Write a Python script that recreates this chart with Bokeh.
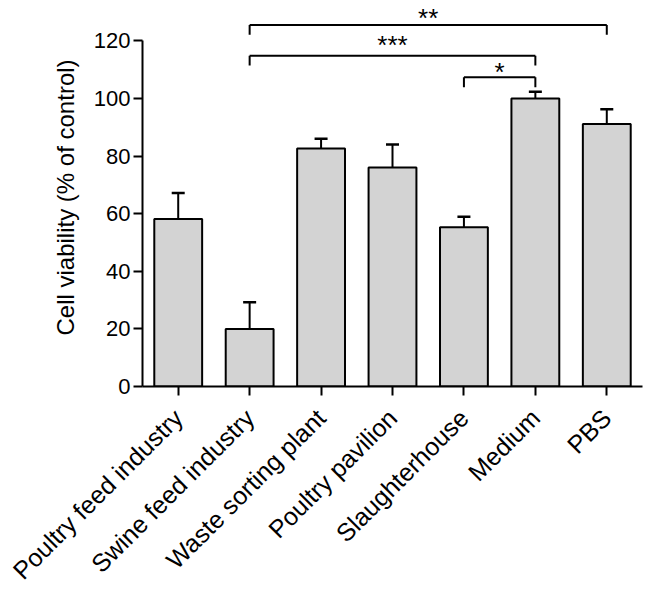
import numpy as np
from bokeh.plotting import figure
from bokeh.models import FactorRange, Range1d, FixedTicker, ColumnDataSource, Whisker, TeeHead
from bokeh.core.properties import value
from bokeh.transform import dodge
from bokeh.embed import file_html
from bokeh.resources import INLINE

categories = ["Poultry feed industry", "Swine feed industry", "Waste sorting plant",
              "Poultry pavilion", "Slaughterhouse", "Medium", "PBS"]
means = [58.1, 20.0, 82.6, 76.0, 55.3, 100.0, 91.1]
errors = [9.1, 9.2, 3.4, 8.0, 3.6, 2.3, 5.1]
y_ticks = [0, 20, 40, 60, 80, 100, 120]

br_start = ["Swine feed industry", "Swine feed industry", "Slaughterhouse"]
br_end = ["PBS", "Medium", "Medium"]
br_height = [125.5, 114.8, 107.3]
br_drop = [3.4, 3.4, 3.4]
br_label = ["**", "***", "*"]
br_label_y = [128.0, 118.6, 109.2]

FONT = "Liberation Sans"

p = figure(x_range=FactorRange(factors=categories, range_padding=0),
           y_range=Range1d(0, 131.2),
           frame_width=500, frame_height=378, output_backend="svg", toolbar_location=None,
           min_border_left=142, min_border_right=6, min_border_top=8, min_border_bottom=10)
p.outline_line_color = None
p.xgrid.grid_line_color = None
p.ygrid.grid_line_color = None

src = ColumnDataSource(dict(cat=categories, mean=means,
                            upper=[m + e for m, e in zip(means, errors)]))
p.vbar(x="cat", top="mean", bottom=0, width=0.67, source=src,
       fill_color="#d3d3d3", line_color="black", line_width=2)
w = Whisker(base="cat", lower="mean", upper="upper", source=src,
            line_color="black", line_width=2,
            upper_head=TeeHead(size=13, line_width=2.5, line_color="black"),
            lower_head=None)
p.add_layout(w)

# significance brackets
drop_y = [h - d for h, d in zip(br_height, br_drop)]
p.segment(x0=br_start, y0=br_height, x1=br_end, y1=br_height, line_color="black", line_width=2)
p.segment(x0=br_start, y0=br_height, x1=br_start, y1=drop_y, line_color="black", line_width=2)
p.segment(x0=br_end, y0=br_height, x1=br_end, y1=drop_y, line_color="black", line_width=2)

for s, e, yl, t in zip(br_start, br_end, br_label_y, br_label):
    i0, i1 = categories.index(s), categories.index(e)
    mid = (i0 + i1) / 2
    base_idx = int(np.floor(mid))
    offset = mid - base_idx
    p.text(x=dodge("x", offset, range=p.x_range), y="y", text="t",
           source=ColumnDataSource(dict(x=[categories[base_idx]], y=[yl], t=[t])),
           text_font=value(FONT), text_font_size="26px", text_color="black",
           text_align="center", text_baseline="middle")

# axes
p.yaxis.ticker = FixedTicker(ticks=y_ticks)
p.yaxis.bounds = (0, 120)
p.yaxis.minor_tick_line_color = None
p.yaxis.axis_label = "Cell viability (% of control)"
p.yaxis.axis_label_text_font = FONT
p.yaxis.axis_label_text_font_style = "normal"
p.yaxis.axis_label_text_font_size = "24px"
p.yaxis.axis_label_text_color = "black"
p.yaxis.axis_label_standoff = 12
p.yaxis.major_label_text_font = FONT
p.yaxis.major_label_text_font_size = "22px"
p.yaxis.major_label_standoff = 3

for ax in (p.xaxis[0], p.yaxis[0]):
    ax.axis_line_width = 2
    ax.axis_line_color = "black"
    ax.major_tick_line_width = 2
    ax.major_tick_line_color = "black"
    ax.major_tick_out = 9
    ax.major_tick_in = 0
    ax.major_label_text_color = "black"

p.xaxis.major_label_orientation = np.pi / 4
p.xaxis.major_label_text_font = FONT
p.xaxis.major_label_text_font_size = "25px"
p.xaxis.major_label_standoff = 18

open("out.html", "w").write(file_html(p, INLINE))
